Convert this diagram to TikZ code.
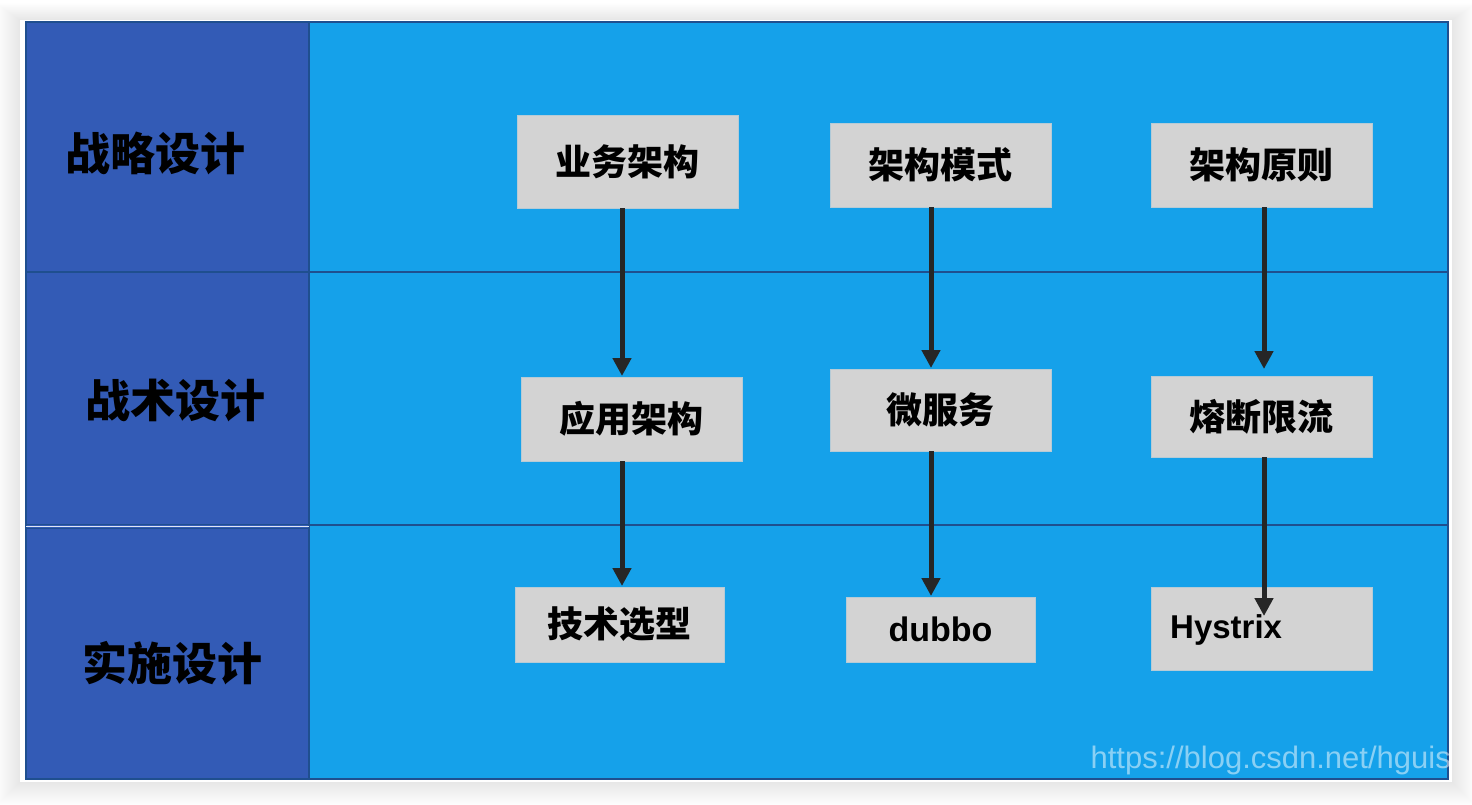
\documentclass[tikz,border=0pt]{standalone}
\usepackage{fontspec}
\newfontfamily\cjk{Noto Sans CJK SC}
\newfontfamily\latin{Liberation Sans}
\usetikzlibrary{arrows.meta}
\definecolor{leftblue}{HTML}{335BB6}
\definecolor{rightblue}{HTML}{15A1EA}
\definecolor{gridline}{HTML}{1F4F8F}
\definecolor{boxgrey}{HTML}{D3D3D3}
\definecolor{arrowgrey}{HTML}{262626}
\tikzset{
  x=1pt, y=-1pt,
  rowlabel/.style={font=\cjk\bfseries\fontsize{45}{50}\selectfont, text=black, inner sep=0pt},
  item/.style={fill=boxgrey, draw=boxgrey!85!rightblue, line width=0.8pt, inner sep=0pt,
    font=\cjk\bfseries\fontsize{36}{40}\selectfont, text=black},
  flow/.style={draw=arrowgrey, line width=5pt, -{Triangle[length=18pt,width=18pt]}},
}
\begin{document}
\begin{tikzpicture}
\useasboundingbox (0,0) rectangle (1472,804);
\fill[white] (0,0) rectangle (1472,804);
% soft drop shadow behind the card
\foreach \i in {1,...,24}{
  \fill[black, opacity=0.005] (20-\i*1.0,20-\i*0.7) rectangle (1452+\i*1.0,782+\i*1.0);
}
\fill[white] (20,20) rectangle (1452,782);

% cells
\fill[leftblue] (26,22) rectangle (309,779);
\fill[rightblue] (309,22) rectangle (1448,779);
\draw[gridline, line width=1.6pt] (26,22) rectangle (1448,779);
\draw[gridline, line width=1.2pt] (309,22) -- (309,779);
\draw[gridline, line width=1.2pt] (26,272) -- (1448,272);
\draw[gridline, line width=1.2pt] (309,525) -- (1448,525);
\draw[gridline, line width=1pt] (26,524) -- (309,524);
\draw[white!85!leftblue, line width=1pt] (26,526) -- (309,526);
\draw[gridline, line width=1pt] (26,528) -- (309,528);

% row labels
\node[rowlabel] (r1) at (155,153) {战略设计};
\node[rowlabel] (r2) at (175,401) {战术设计};
\node[rowlabel] (r3) at (172,663) {实施设计};

% boxes
\node[item, minimum width=221pt, minimum height=93pt] (a1) at (627.5,161.5) {业务架构};
\node[item, minimum width=221pt, minimum height=84pt] (b1) at (940.5,165) {架构模式};
\node[item, minimum width=221pt, minimum height=84pt] (c1) at (1261.5,165) {架构原则};
\node[item, minimum width=221pt, minimum height=84pt] (a2) at (631.5,419) {应用架构};
\node[item, minimum width=221pt, minimum height=82pt] (b2) at (940.5,410) {微服务};
\node[item, minimum width=221pt, minimum height=81pt] (c2) at (1261.5,416.5) {熔断限流};
\node[item, minimum width=209pt, minimum height=75pt] (a3) at (619.5,624.5) {技术选型};
\node[item, minimum width=189pt, minimum height=65pt, font=\latin\bfseries\fontsize{34}{38}\selectfont] (b3) at (940.5,629.5) {dubbo};
\node[item, minimum width=221pt, minimum height=83pt] (c3) at (1261.5,628.5) {};
\node[font=\latin\bfseries\fontsize{33}{38}\selectfont, anchor=west, inner sep=0pt] (c3t) at (1170,630) {Hystrix};

% links between levels
\coordinate (tipc3) at (1264,616);
\draw[flow] (a1.south -| 622,0) -- (622,376);
\draw[flow] (a2.south -| 622,0) -- (622,586);
\draw[flow] (b1.south -| 931,0) -- (931,368);
\draw[flow] (b2.south -| 931,0) -- (931,596);
\draw[flow] (c1.south -| 1264,0) -- (1264,369);
\draw[flow] (c2.south -| 1264,0) -- (tipc3);

% watermark
\begin{scope}
\clip (26,22) rectangle (1452,779);
\node[font=\latin\fontsize{31}{34}\selectfont, text=white, opacity=0.5, anchor=east, inner sep=0pt] (wm) at (1451,760) {https://blog.csdn.net/hguis};
\end{scope}
\end{tikzpicture}
\end{document}
